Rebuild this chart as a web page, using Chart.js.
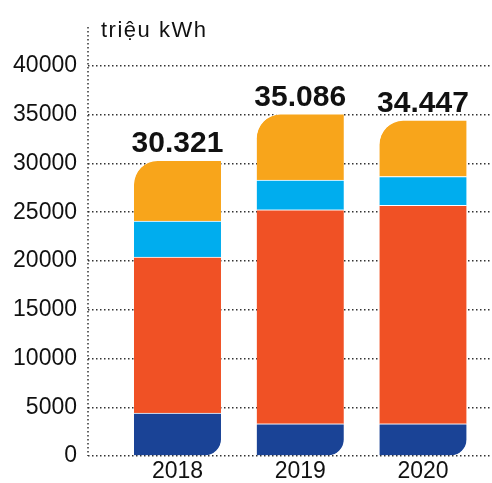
<!DOCTYPE html>
<html>
<head>
<meta charset="utf-8">
<script src="https://cdn.jsdelivr.net/npm/chart.js@4.4.1/dist/chart.umd.min.js"></script>
<style>
  html, body { margin: 0; padding: 0; background: #ffffff; }
  #wrap { width: 492px; height: 483px; position: relative; }
</style>
</head>
<body>
<div id="wrap"><canvas id="c" width="492" height="483"></canvas></div>
<script>
// ---- data ----
const years = [2018, 2019, 2020];
const seriesDarkBlue = [4400, 3300, 3300];
const seriesRed = [16000, 21950, 22400];
const seriesLightBlue = [3700, 3050, 2970];
const seriesOrange = [6221, 6786, 5777];
const totals = [30321, 35086, 34447];
const yTicks = [0, 5000, 10000, 15000, 20000, 25000, 30000, 35000, 40000];
const unitLabel = 'triệu kWh';

const FONT = "'Liberation Sans', Arial, Helvetica, sans-serif";

function fmtVN(n) {
  return String(n).replace(/\B(?=(\d{3})+(?!\d))/g, '.');
}

const decorPlugin = {
  id: 'decor',
  beforeDatasetsDraw(chart) {
    const ctx = chart.ctx;
    const a = chart.chartArea;
    ctx.save();
    ctx.strokeStyle = '#333';
    ctx.lineWidth = 1.5;
    ctx.setLineDash([1.5, 2.5]);
    ctx.beginPath();
    ctx.moveTo(a.left, a.top);
    ctx.lineTo(a.left, a.bottom);
    ctx.stroke();
    ctx.restore();
  },
  afterDatasetsDraw(chart) {
    const ctx = chart.ctx;
    const a = chart.chartArea;
    const y = chart.scales.y;
    const x = chart.scales.x;
    ctx.save();
    ctx.fillStyle = '#111';
    ctx.font = "bold 30px " + FONT;
    ctx.textAlign = 'center';
    ctx.textBaseline = 'alphabetic';
    years.forEach((yr, i) => {
      ctx.fillText(fmtVN(totals[i]), x.getPixelForValue(yr), y.getPixelForValue(totals[i]) - 8);
    });
    ctx.font = "22px " + FONT;
    if ('letterSpacing' in ctx) ctx.letterSpacing = '1.5px';
    ctx.textAlign = 'left';
    ctx.fillText(unitLabel, a.left + 13, 37);
    ctx.restore();
  }
};

const common = {
  borderColor: '#ffffff',
  borderWidth: { top: 1, left: 0, right: 0, bottom: 0 },
  borderSkipped: false,
  barThickness: 87,
  clip: false
};

new Chart(document.getElementById('c'), {
  type: 'bar',
  data: {
    labels: years,
    datasets: [
      Object.assign({ label: 'a', data: seriesDarkBlue, backgroundColor: '#1a4396', borderRadius: { topLeft: 0, topRight: 0, bottomLeft: 0, bottomRight: 16 } }, common),
      Object.assign({ label: 'b', data: seriesRed, backgroundColor: '#f05125' }, common),
      Object.assign({ label: 'c', data: seriesLightBlue, backgroundColor: '#00adee' }, common),
      Object.assign({ label: 'd', data: seriesOrange, backgroundColor: '#f8a51b', borderRadius: { topLeft: 25, topRight: 0, bottomLeft: 0, bottomRight: 0 } }, common)
    ]
  },
  options: {
    responsive: false,
    animation: false,
    devicePixelRatio: 1,
    layout: { padding: { top: 27, right: 1, left: 0, bottom: 0 } },
    plugins: { legend: { display: false }, tooltip: { enabled: false }, title: { display: false } },
    scales: {
      x: {
        type: 'linear',
        stacked: true,
        offset: false,
        min: 2017.271,
        max: 2020.554,
        grid: { display: false, drawTicks: false },
        border: { display: false },
        afterBuildTicks(s) { s.ticks = years.map(v => ({ value: v })); },
        afterFit(s) { s.height = 27; },
        ticks: {
          color: '#111',
          font: { family: FONT, size: 23 },
          padding: 2,
          autoSkip: false,
          maxRotation: 0,
          callback: v => String(v)
        }
      },
      y: {
        stacked: true,
        min: 0,
        max: 44000,
        afterBuildTicks(s) { s.ticks = yTicks.map(v => ({ value: v })); },
        afterFit(s) { s.width = 88; },
        grid: { color: '#333', lineWidth: 1.5, drawTicks: false },
        border: { display: false, dash: [1.5, 2.5] },
        ticks: {
          color: '#111',
          font: { family: FONT, size: 23 },
          padding: 11,
          callback: v => String(v)
        }
      }
    }
  },
  plugins: [decorPlugin]
});
</script>
</body>
</html>
